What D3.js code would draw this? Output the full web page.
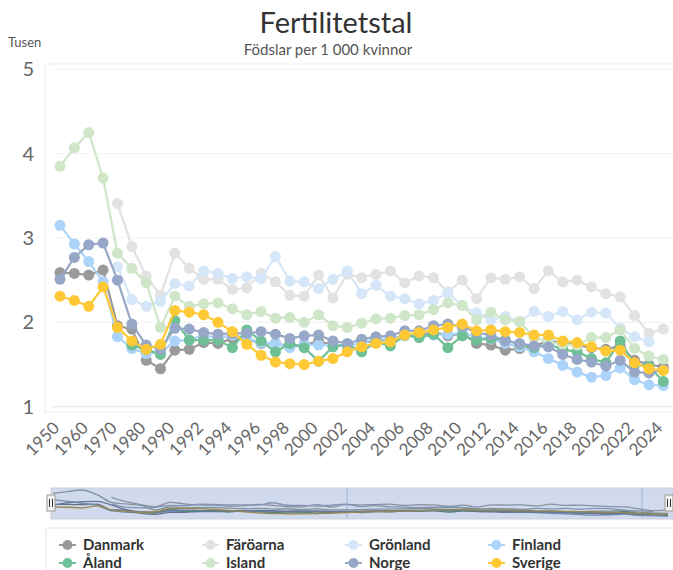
<!DOCTYPE html>
<html>
<head>
<meta charset="utf-8">
<script src="https://cdn.jsdelivr.net/npm/d3@7"></script>
<style>
  body { margin: 0; background: #fff; }
  svg { display: block; font-family: Lato, "Open Sans", sans-serif; }
</style>
</head>
<body>
<svg id="chart" width="673" height="570"></svg>
<script>
// categories: 5-year steps up to 1990, then yearly
const years = ["1950", "1955", "1960", "1965", "1970", "1975", "1980", "1985", "1990",
  "1991", "1992", "1993", "1994", "1995", "1996", "1997", "1998", "1999", "2000",
  "2001", "2002", "2003", "2004", "2005", "2006", "2007", "2008", "2009", "2010",
  "2011", "2012", "2013", "2014", "2015", "2016", "2017", "2018", "2019", "2020",
  "2021", "2022", "2023", "2024"];
const tickYears = ["1950", "1960", "1970", "1980", "1990", "1992", "1994", "1996", "1998",
  "2000", "2002", "2004", "2006", "2008", "2010", "2012", "2014", "2016", "2018",
  "2020", "2022", "2024"];
const yTicks = [1, 2, 3, 4, 5];

const danmark = [2.59, 2.58, 2.56, 2.62, 1.96, 1.92, 1.55, 1.45, 1.67,
  1.68, 1.76, 1.75, 1.81, 1.80, 1.75, 1.75, 1.72, 1.74, 1.77,
  1.74, 1.72, 1.76, 1.78, 1.80, 1.85, 1.84, 1.89, 1.84, 1.87,
  1.75, 1.73, 1.67, 1.69, 1.71, 1.79, 1.75, 1.73, 1.70, 1.68,
  1.72, 1.55, 1.50, 1.47];
const faroarna = [null, null, null, null, 3.41, 2.90, 2.55, 2.32, 2.82,
  2.64, 2.51, 2.51, 2.39, 2.41, 2.58, 2.48, 2.32, 2.31, 2.56,
  2.29, 2.57, 2.53, 2.57, 2.61, 2.47, 2.55, 2.53, 2.36, 2.50,
  2.28, 2.53, 2.51, 2.54, 2.40, 2.61, 2.48, 2.50, 2.42, 2.34,
  2.30, 2.08, 1.87, 1.92];
const gronland = [null, null, null, null, 2.66, 2.27, 2.19, 2.25, 2.46,
  2.43, 2.61, 2.58, 2.52, 2.54, 2.52, 2.78, 2.49, 2.48, 2.40,
  2.51, 2.61, 2.34, 2.44, 2.31, 2.28, 2.22, 2.26, 2.35, 2.20,
  2.11, 2.03, 2.07, 2.01, 2.13, 2.07, 2.13, 2.03, 2.12, 2.11,
  1.93, 1.83, 1.77, null];
const finland = [3.15, 2.93, 2.72, 2.48, 1.83, 1.69, 1.63, 1.64, 1.78,
  1.79, 1.85, 1.81, 1.85, 1.81, 1.76, 1.75, 1.70, 1.74, 1.73,
  1.73, 1.72, 1.76, 1.80, 1.80, 1.84, 1.83, 1.85, 1.86, 1.87,
  1.83, 1.80, 1.75, 1.71, 1.65, 1.57, 1.49, 1.41, 1.35, 1.37,
  1.46, 1.32, 1.26, 1.25];
const aland = [null, null, null, null, null, 1.73, 1.68, 1.62, 2.02,
  1.79, 1.79, 1.79, 1.70, 1.91, 1.78, 1.65, 1.75, 1.70, 1.54,
  1.71, 1.74, 1.65, 1.77, 1.72, 1.85, 1.82, 1.86, 1.70, 1.84,
  1.79, 1.81, 1.79, 1.74, 1.70, 1.74, 1.68, 1.65, 1.57, 1.52,
  1.78, 1.50, 1.48, 1.30];
const island = [3.85, 4.07, 4.25, 3.71, 2.82, 2.64, 2.47, 1.94, 2.31,
  2.19, 2.22, 2.23, 2.16, 2.09, 2.13, 2.05, 2.06, 2.00, 2.09,
  1.96, 1.94, 1.99, 2.04, 2.05, 2.08, 2.09, 2.15, 2.23, 2.20,
  2.03, 2.12, 2.03, 2.01, 1.82, 1.77, 1.74, 1.73, 1.82, 1.82,
  1.91, 1.69, 1.60, 1.56];
const norge = [2.51, 2.77, 2.92, 2.94, 2.50, 1.98, 1.73, 1.68, 1.93,
  1.92, 1.88, 1.86, 1.87, 1.87, 1.89, 1.86, 1.81, 1.84, 1.85,
  1.78, 1.75, 1.80, 1.83, 1.84, 1.90, 1.90, 1.96, 1.98, 1.95,
  1.88, 1.85, 1.78, 1.75, 1.72, 1.71, 1.62, 1.56, 1.53, 1.48,
  1.55, 1.41, 1.40, 1.44];
const sverige = [2.31, 2.26, 2.19, 2.42, 1.94, 1.78, 1.68, 1.74, 2.14,
  2.12, 2.09, 2.00, 1.89, 1.74, 1.61, 1.53, 1.51, 1.50, 1.54,
  1.57, 1.65, 1.71, 1.75, 1.77, 1.85, 1.88, 1.91, 1.94, 1.98,
  1.90, 1.91, 1.89, 1.88, 1.85, 1.85, 1.78, 1.76, 1.71, 1.66,
  1.67, 1.52, 1.45, 1.43];

const seriesNames = ["Danmark", "Färöarna", "Grönland", "Finland", "Åland", "Island", "Norge", "Sverige"];
const seriesValues = [danmark, faroarna, gronland, finland, aland, island, norge, sverige];
const seriesColors = ["#9a9a9a", "#e2e2e2", "#d5e6f8", "#acd4fa", "#6fbf97", "#cfe6c9", "#96a7c7", "#fec935"];

const series = seriesNames.map((name, i) => ({
  name: name,
  color: seriesColors[i],
  values: years.map((y, j) => ({ year: y, value: seriesValues[i][j] }))
}));

const svg = d3.select("#chart");

// titles
svg.append("text")
  .attr("x", 336).attr("y", 33)
  .attr("text-anchor", "middle")
  .attr("font-size", 29)
  .attr("fill", "#333")
  .text("Fertilitetstal");

svg.append("text")
  .attr("x", 328).attr("y", 55)
  .attr("text-anchor", "middle")
  .attr("font-size", 15)
  .attr("fill", "#555")
  .text("Födslar per 1 000 kvinnor");

svg.append("text")
  .attr("x", 8).attr("y", 47)
  .attr("font-size", 13)
  .attr("fill", "#555")
  .text("Tusen");

// main plot
const plot = { left: 45, top: 64, right: 680, bottom: 412 };

const x = d3.scalePoint().domain(years).range([60, 663.3]);
const y = d3.scaleLinear().domain([1, 5]).range([406.7, 69.3]);

svg.append("rect")
  .attr("x", plot.left).attr("y", plot.top)
  .attr("width", plot.right - plot.left).attr("height", plot.bottom - plot.top)
  .attr("fill", "none")
  .attr("stroke", "#ececec");

// gridlines
svg.append("g")
  .selectAll("line")
  .data(yTicks)
  .enter()
  .append("line")
  .attr("x1", 52).attr("x2", plot.right)
  .attr("y1", d => y(d)).attr("y2", d => y(d))
  .attr("stroke", d => d === 1 ? "#e3e3f3" : "#f3f3f3")
  .attr("stroke-width", 1);

// y axis labels
const yAxis = d3.axisLeft(y).tickValues(yTicks).tickFormat(d3.format("d")).tickSize(0).tickPadding(0);
const yG = svg.append("g").attr("transform", "translate(34,0)").call(yAxis);
yG.select(".domain").remove();
yG.selectAll("text")
  .attr("font-family", "Lato, sans-serif")
  .attr("font-size", 20)
  .attr("fill", "#666");

// x axis labels, rotated
const xAxis = d3.axisBottom(x).tickValues(tickYears).tickSize(0).tickPadding(0);
const xG = svg.append("g").attr("transform", "translate(0,412)").call(xAxis);
xG.select(".domain").remove();
xG.selectAll("text")
  .attr("font-family", "Lato, sans-serif")
  .attr("font-size", 17)
  .attr("fill", "#666")
  .attr("text-anchor", "end")
  .attr("dy", 0)
  .attr("transform", "translate(0,17) rotate(-45)");

// series lines + markers
const line = d3.line()
  .defined(d => d.value != null)
  .x(d => x(d.year))
  .y(d => y(d.value));

const seriesG = svg.append("g")
  .selectAll("g")
  .data(series)
  .enter()
  .append("g");

seriesG.append("path")
  .attr("d", d => line(d.values))
  .attr("fill", "none")
  .attr("stroke", d => d.color)
  .attr("stroke-width", 2.2);

seriesG.selectAll("circle")
  .data(d => d.values.filter(v => v.value != null).map(v => ({ ...v, color: d.color })))
  .enter()
  .append("circle")
  .attr("cx", d => x(d.year))
  .attr("cy", d => y(d.value))
  .attr("r", 5.5)
  .attr("fill", d => d.color);

// navigator
const nav = { left: 51, top: 488, right: 673, bottom: 519 };
const xNav = d3.scalePoint().domain(years).range([53, 668]);
const yNav = d3.scaleLinear().domain([1.25, 4.25]).range([516, 490]);

svg.append("rect")
  .attr("x", nav.left).attr("y", nav.top)
  .attr("width", nav.right - nav.left).attr("height", nav.bottom - nav.top)
  .attr("fill", "#fff");

[347, 642].forEach(gx => {
  svg.append("line")
    .attr("x1", gx).attr("x2", gx)
    .attr("y1", nav.top).attr("y2", nav.bottom)
    .attr("stroke", "#b9c4de");
});

const navLine = d3.line()
  .defined(d => d.value != null)
  .x(d => xNav(d.year))
  .y(d => yNav(d.value))
  .curve(d3.curveMonotoneX);

svg.append("g")
  .selectAll("path")
  .data(series)
  .enter()
  .append("path")
  .attr("d", d => navLine(d.values))
  .attr("fill", "none")
  .attr("stroke", d => d3.color(d.color).darker(1.1))
  .attr("stroke-width", 1.3);

svg.append("rect")
  .attr("x", nav.left).attr("y", nav.top)
  .attr("width", nav.right - nav.left).attr("height", nav.bottom - nav.top)
  .attr("fill", "rgba(102,133,194,0.3)")
  .attr("stroke", "#c9cfdb");

// navigator handles
[nav.left, 669].forEach(hx => {
  const h = svg.append("g").attr("transform", `translate(${hx},503)`);
  h.append("rect")
    .attr("x", -4).attr("y", -8)
    .attr("width", 8).attr("height", 16)
    .attr("fill", "#f2f2f2")
    .attr("stroke", "#999");
  [-1.5, 1.5].forEach(lx => {
    h.append("line")
      .attr("x1", lx).attr("x2", lx)
      .attr("y1", -4).attr("y2", 4)
      .attr("stroke", "#333");
  });
});

// legend
svg.append("rect")
  .attr("x", 46).attr("y", 528)
  .attr("width", 640).attr("height", 60)
  .attr("fill", "none")
  .attr("stroke", "#e6e6e6");

const legendItems = svg.append("g")
  .selectAll("g")
  .data(series)
  .enter()
  .append("g")
  .attr("transform", (d, i) => `translate(${59 + (i % 4) * 143},${545 + Math.floor(i / 4) * 18})`);

legendItems.append("line")
  .attr("x1", 0).attr("x2", 17)
  .attr("y1", 0).attr("y2", 0)
  .attr("stroke", d => d.color)
  .attr("stroke-width", 2);

legendItems.append("circle")
  .attr("cx", 8.5).attr("cy", 0)
  .attr("r", 5)
  .attr("fill", d => d.color);

legendItems.append("text")
  .attr("x", 24).attr("y", 5)
  .attr("font-size", 15)
  .attr("font-weight", 700)
  .attr("fill", "#333")
  .text(d => d.name);
</script>
</body>
</html>
